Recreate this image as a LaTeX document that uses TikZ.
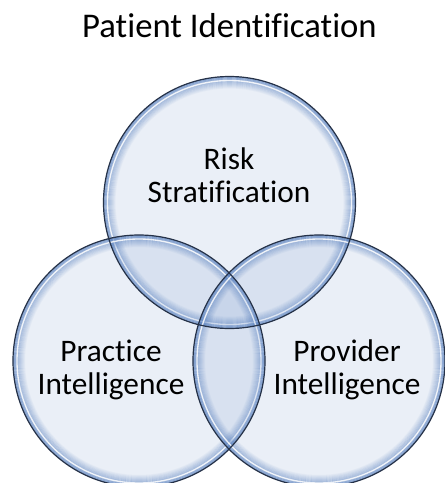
\documentclass[tikz,border=0pt]{standalone}
\usepackage{fontspec}
\setmainfont{Carlito}[Ligatures=NoCommon]
\usetikzlibrary{positioning}
\definecolor{ballfill}{RGB}{115,150,205}
\definecolor{ballrim}{RGB}{75,118,185}
\definecolor{balledge}{RGB}{38,50,72}

\begin{document}
\begin{tikzpicture}[x=0.75pt, y=-0.75pt,
  ballbody/.style={fill=ballfill, fill opacity=0.15},
  ballrim/.style={draw=ballrim, line width=0.8pt},
  ballshine/.style={draw=white, line width=1pt, draw opacity=0.85},
  balledge/.style={draw=balledge, line width=0.9pt},
  lbl/.style={font=\fontsize{23.5}{24.75}\selectfont, align=center, text=black}]
\useasboundingbox (0,0) rectangle (444,483);
\fill[white] (0,0) rectangle (444,483);
% circle centres
\coordinate (risk) at (229.5,202.5);
\coordinate (practice) at (139,361);
\coordinate (provider) at (319,361);
% glassy discs
\foreach \c in {risk,practice,provider}{
  \fill[ballbody] (\c) circle[radius=126];
  \foreach \k [evaluate=\k as \op using 0.6-0.05*\k] in {0,...,11}
    \draw[ballrim, draw opacity=\op] (\c) circle[radius={125.5-\k}];
  \draw[ballshine] (\c) circle[radius=122];
}
\foreach \c in {risk,practice,provider}
  \draw[balledge] (\c) circle[radius=126];
% texts
\node[font=\fontsize{26}{30}\selectfont, anchor=base] (title) at (229.5,37) {Patient Identification};
\node[lbl] (risktxt) at (229,175) {Risk\\Stratification};
\node[lbl] (practicetxt) at (111,370) {Practice\\Intelligence};
\node[lbl] (providertxt) at (347,370) {Provider\\Intelligence};
\end{tikzpicture}
\end{document}
